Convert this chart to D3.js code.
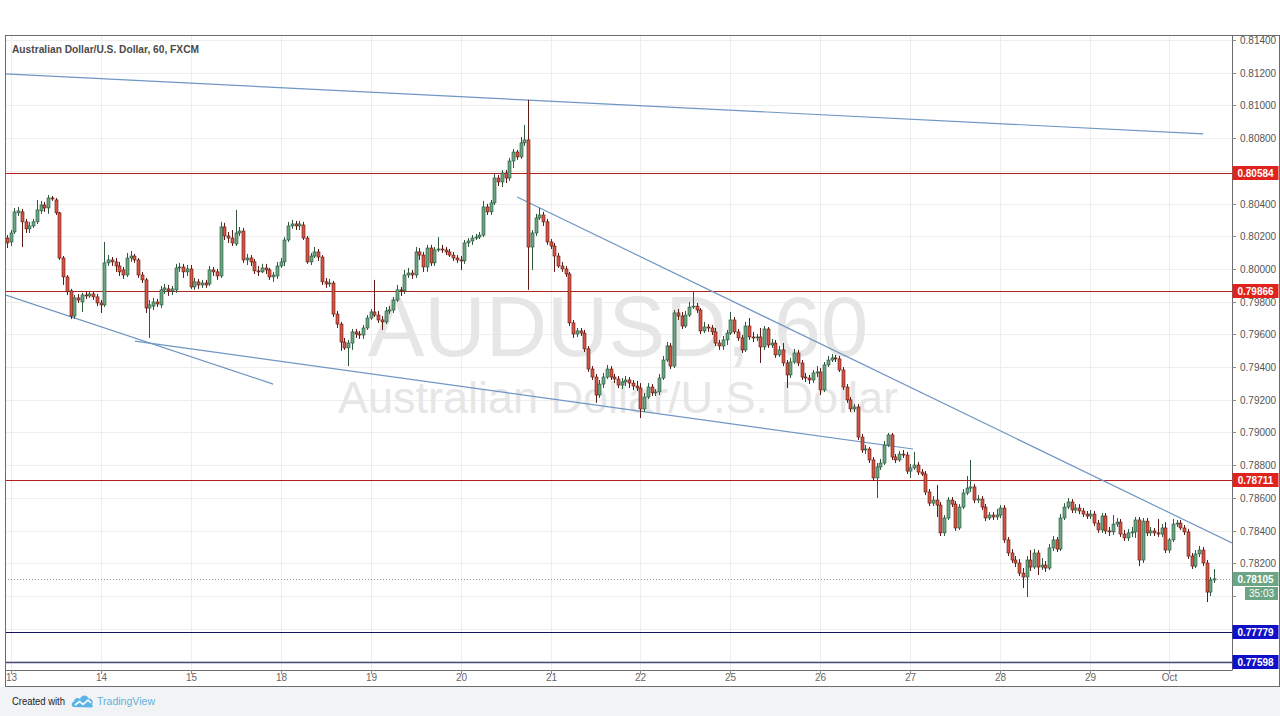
<!DOCTYPE html>
<html><head><meta charset="utf-8">
<script src="https://cdn.jsdelivr.net/npm/d3@7"></script>
<style>html,body{margin:0;padding:0;background:#fff;overflow:hidden}svg{display:block}</style>
</head><body><svg id="c" width="1280" height="716"></svg>
<script>
// ---------- DATA (AUDUSD hourly candles, [open, high, low, close]) ----------
const prelude = [[0.80189,0.80207,0.80128,0.80159]];
const sep13 = [[0.80165,0.80238,0.80140,0.80220],[0.80226,0.80373,0.80214,0.80349],[0.80343,0.80379,0.80324,0.80355],[0.80349,0.80367,0.80134,0.80288],[0.80288,0.80306,0.80220,0.80245],[0.80245,0.80288,0.80220,0.80263],[0.80263,0.80306,0.80251,0.80288],[0.80288,0.80422,0.80275,0.80361],[0.80355,0.80416,0.80337,0.80391],[0.80391,0.80410,0.80349,0.80373],[0.80373,0.80452,0.80337,0.80434],[0.80434,0.80446,0.80416,0.80428],[0.80422,0.80434,0.80330,0.80343],[0.80343,0.80349,0.80055,0.80067],[0.80067,0.80079,0.79902,0.79951],[0.79951,0.79963,0.79841,0.79860],[0.79866,0.79878,0.79694,0.79712],[0.79712,0.79841,0.79694,0.79823],[0.79823,0.79847,0.79792,0.79810],[0.79798,0.79854,0.79737,0.79841],[0.79841,0.79860,0.79817,0.79835],[0.79835,0.79866,0.79823,0.79847],[0.79847,0.79860,0.79810,0.79829],[0.79829,0.79847,0.79773,0.79792]];
const sep14 = [[0.79792,0.79810,0.79731,0.79780],[0.79780,0.80165,0.79767,0.80037],[0.80037,0.80085,0.80018,0.80055],[0.80055,0.80073,0.80018,0.80043],[0.80043,0.80067,0.79982,0.80018],[0.80018,0.80043,0.79957,0.79982],[0.79994,0.80012,0.79939,0.79963],[0.79963,0.80098,0.79951,0.80067],[0.80067,0.80110,0.80043,0.80079],[0.80079,0.80092,0.80037,0.80055],[0.80055,0.80067,0.79945,0.79963],[0.79963,0.79982,0.79914,0.79933],[0.79933,0.79945,0.79731,0.79761],[0.79761,0.79810,0.79578,0.79780],[0.79773,0.79823,0.79749,0.79798],[0.79798,0.79817,0.79767,0.79786],[0.79780,0.79896,0.79761,0.79872],[0.79872,0.79908,0.79847,0.79884],[0.79878,0.79902,0.79835,0.79866],[0.79866,0.79896,0.79841,0.79878],[0.79872,0.80031,0.79854,0.80006],[0.80006,0.80037,0.79982,0.80012],[0.80012,0.80031,0.79945,0.79982],[0.79982,0.80024,0.79957,0.80000]];
const sep15 = [[0.80000,0.80024,0.79878,0.79890],[0.79890,0.79945,0.79872,0.79921],[0.79921,0.79939,0.79878,0.79902],[0.79902,0.79933,0.79884,0.79914],[0.79914,0.79933,0.79884,0.79902],[0.79908,0.80018,0.79896,0.79994],[0.79994,0.80012,0.79957,0.79982],[0.79982,0.80000,0.79933,0.79957],[0.79957,0.80288,0.79945,0.80257],[0.80257,0.80282,0.80177,0.80202],[0.80202,0.80226,0.80159,0.80189],[0.80189,0.80238,0.80140,0.80159],[0.80153,0.80361,0.80140,0.80220],[0.80220,0.80257,0.80202,0.80232],[0.80232,0.80251,0.80037,0.80055],[0.80055,0.80092,0.80024,0.80067],[0.80067,0.80085,0.80018,0.80043],[0.80043,0.80061,0.79969,0.79988],[0.79988,0.80018,0.79957,0.79982],[0.79982,0.80031,0.79975,0.80006],[0.80006,0.80031,0.79969,0.79994],[0.79994,0.80006,0.79933,0.79951],[0.79951,0.79982,0.79921,0.79963],[0.79957,0.80043,0.79939,0.80018]];
const sep18 = [[0.80018,0.80067,0.80006,0.80043],[0.80043,0.80195,0.80018,0.80177],[0.80177,0.80288,0.80165,0.80263],[0.80263,0.80300,0.80245,0.80275],[0.80275,0.80294,0.80238,0.80263],[0.80263,0.80294,0.80238,0.80275],[0.80269,0.80288,0.80177,0.80189],[0.80189,0.80202,0.80031,0.80043],[0.80043,0.80098,0.80024,0.80079],[0.80079,0.80134,0.80067,0.80104],[0.80104,0.80122,0.80049,0.80073],[0.80073,0.80085,0.79902,0.79921],[0.79921,0.79945,0.79884,0.79908],[0.79908,0.79939,0.79890,0.79914],[0.79914,0.79927,0.79706,0.79724],[0.79724,0.79743,0.79639,0.79663],[0.79663,0.79676,0.79499,0.79553],[0.79553,0.79578,0.79505,0.79517],[0.79517,0.79566,0.79406,0.79547],[0.79547,0.79633,0.79505,0.79615],[0.79615,0.79633,0.79578,0.79602],[0.79602,0.79621,0.79572,0.79596],[0.79596,0.79657,0.79572,0.79639],[0.79639,0.79718,0.79627,0.79700]];
const sep19 = [[0.79700,0.79755,0.79688,0.79737],[0.79737,0.79933,0.79706,0.79718],[0.79718,0.79743,0.79670,0.79688],[0.79688,0.79712,0.79627,0.79676],[0.79676,0.79767,0.79663,0.79743],[0.79743,0.79773,0.79724,0.79749],[0.79749,0.79829,0.79731,0.79810],[0.79810,0.79902,0.79798,0.79872],[0.79872,0.79890,0.79835,0.79866],[0.79866,0.79994,0.79847,0.79963],[0.79963,0.80006,0.79945,0.79975],[0.79975,0.79994,0.79939,0.79963],[0.79963,0.80134,0.79945,0.80104],[0.80104,0.80128,0.80055,0.80085],[0.80085,0.80104,0.79982,0.80012],[0.80012,0.80147,0.79982,0.80128],[0.80128,0.80147,0.80018,0.80037],[0.80037,0.80134,0.80018,0.80116],[0.80116,0.80195,0.80104,0.80122],[0.80122,0.80147,0.80098,0.80116],[0.80116,0.80134,0.80085,0.80104],[0.80104,0.80122,0.80073,0.80085],[0.80085,0.80104,0.80049,0.80067],[0.80067,0.80085,0.80037,0.80055]];
const sep20 = [[0.80055,0.80079,0.79994,0.80049],[0.80049,0.80177,0.80031,0.80159],[0.80159,0.80189,0.80134,0.80171],[0.80171,0.80207,0.80147,0.80189],[0.80189,0.80214,0.80177,0.80195],[0.80195,0.80226,0.80183,0.80207],[0.80207,0.80416,0.80195,0.80379],[0.80379,0.80398,0.80330,0.80349],[0.80349,0.80422,0.80330,0.80404],[0.80404,0.80581,0.80391,0.80556],[0.80556,0.80575,0.80507,0.80532],[0.80532,0.80605,0.80501,0.80587],[0.80587,0.80605,0.80526,0.80556],[0.80556,0.80679,0.80538,0.80660],[0.80660,0.80734,0.80618,0.80715],[0.80715,0.80728,0.80667,0.80685],[0.80685,0.80807,0.80673,0.80771],[0.80771,0.80881,0.80752,0.80789],[0.80789,0.81034,0.79872,0.80134],[0.80134,0.80238,0.79994,0.80220],[0.80220,0.80337,0.80202,0.80312],[0.80312,0.80373,0.80300,0.80330],[0.80330,0.80349,0.80263,0.80288],[0.80288,0.80306,0.80147,0.80165]];
const sep21 = [[0.80165,0.80183,0.80122,0.80140],[0.80140,0.80159,0.79982,0.80079],[0.80079,0.80098,0.80006,0.80018],[0.80018,0.80043,0.79982,0.80000],[0.80000,0.80018,0.79951,0.79969],[0.79969,0.79982,0.79651,0.79670],[0.79670,0.79688,0.79578,0.79602],[0.79602,0.79639,0.79584,0.79621],[0.79621,0.79639,0.79590,0.79608],[0.79608,0.79627,0.79492,0.79511],[0.79511,0.79529,0.79370,0.79388],[0.79388,0.79406,0.79321,0.79339],[0.79339,0.79358,0.79181,0.79229],[0.79229,0.79321,0.79211,0.79296],[0.79296,0.79364,0.79272,0.79339],[0.79339,0.79413,0.79327,0.79388],[0.79388,0.79406,0.79321,0.79339],[0.79339,0.79358,0.79302,0.79327],[0.79327,0.79345,0.79272,0.79290],[0.79290,0.79333,0.79266,0.79309],[0.79309,0.79345,0.79284,0.79321],[0.79321,0.79339,0.79272,0.79302],[0.79302,0.79321,0.79260,0.79284],[0.79284,0.79315,0.79254,0.79272]];
const sep22 = [[0.79272,0.79302,0.79088,0.79144],[0.79144,0.79242,0.79125,0.79217],[0.79217,0.79302,0.79205,0.79278],[0.79278,0.79296,0.79223,0.79242],[0.79242,0.79266,0.79223,0.79248],[0.79248,0.79358,0.79229,0.79333],[0.79333,0.79468,0.79321,0.79443],[0.79443,0.79553,0.79431,0.79529],[0.79529,0.79547,0.79388,0.79406],[0.79406,0.79749,0.79394,0.79731],[0.79731,0.79755,0.79688,0.79712],[0.79712,0.79737,0.79633,0.79651],[0.79651,0.79743,0.79639,0.79718],[0.79718,0.79798,0.79706,0.79767],[0.79767,0.79860,0.79755,0.79773],[0.79773,0.79792,0.79731,0.79749],[0.79749,0.79761,0.79602,0.79621],[0.79621,0.79676,0.79608,0.79645],[0.79645,0.79663,0.79615,0.79639],[0.79639,0.79657,0.79596,0.79615],[0.79615,0.79639,0.79529,0.79547],[0.79547,0.79566,0.79505,0.79529],[0.79529,0.79590,0.79505,0.79566],[0.79566,0.79627,0.79535,0.79608]];
const sep25 = [[0.79608,0.79737,0.79596,0.79688],[0.79688,0.79706,0.79602,0.79615],[0.79615,0.79633,0.79559,0.79578],[0.79578,0.79596,0.79486,0.79505],[0.79505,0.79676,0.79492,0.79651],[0.79651,0.79700,0.79566,0.79584],[0.79584,0.79615,0.79553,0.79578],[0.79578,0.79602,0.79559,0.79584],[0.79584,0.79639,0.79425,0.79523],[0.79523,0.79651,0.79505,0.79633],[0.79633,0.79645,0.79517,0.79535],[0.79535,0.79572,0.79517,0.79547],[0.79547,0.79566,0.79456,0.79474],[0.79474,0.79529,0.79462,0.79505],[0.79505,0.79547,0.79406,0.79425],[0.79425,0.79443,0.79272,0.79352],[0.79352,0.79456,0.79333,0.79431],[0.79431,0.79511,0.79419,0.79486],[0.79486,0.79505,0.79406,0.79425],[0.79425,0.79443,0.79321,0.79339],[0.79339,0.79364,0.79309,0.79333],[0.79333,0.79352,0.79296,0.79321],[0.79321,0.79382,0.79302,0.79364],[0.79364,0.79406,0.79339,0.79370]];
const sep26 = [[0.79370,0.79394,0.79229,0.79260],[0.79260,0.79431,0.79248,0.79413],[0.79413,0.79468,0.79400,0.79443],[0.79443,0.79480,0.79431,0.79456],[0.79456,0.79474,0.79431,0.79450],[0.79450,0.79468,0.79370,0.79382],[0.79382,0.79400,0.79260,0.79278],[0.79278,0.79296,0.79181,0.79199],[0.79199,0.79217,0.79125,0.79144],[0.79144,0.79174,0.79125,0.79156],[0.79156,0.79174,0.78954,0.78972],[0.78972,0.78991,0.78875,0.78893],[0.78893,0.78923,0.78868,0.78899],[0.78899,0.78911,0.78813,0.78832],[0.78832,0.78850,0.78703,0.78722],[0.78722,0.78813,0.78599,0.78789],[0.78789,0.78838,0.78771,0.78813],[0.78813,0.78948,0.78801,0.78923],[0.78923,0.78997,0.78911,0.78985],[0.78985,0.78997,0.78832,0.78850],[0.78850,0.78868,0.78813,0.78832],[0.78832,0.78887,0.78820,0.78868],[0.78868,0.78893,0.78844,0.78862],[0.78862,0.78881,0.78746,0.78764]];
const sep27 = [[0.78764,0.78807,0.78722,0.78783],[0.78783,0.78881,0.78771,0.78801],[0.78801,0.78820,0.78740,0.78758],[0.78758,0.78777,0.78734,0.78746],[0.78746,0.78764,0.78617,0.78636],[0.78636,0.78654,0.78550,0.78568],[0.78568,0.78611,0.78550,0.78587],[0.78587,0.78679,0.78483,0.78556],[0.78556,0.78575,0.78367,0.78386],[0.78386,0.78495,0.78367,0.78477],[0.78477,0.78605,0.78465,0.78587],[0.78587,0.78605,0.78544,0.78562],[0.78562,0.78581,0.78398,0.78416],[0.78416,0.78562,0.78404,0.78544],[0.78544,0.78654,0.78532,0.78630],[0.78630,0.78734,0.78617,0.78660],[0.78660,0.78832,0.78636,0.78667],[0.78667,0.78685,0.78568,0.78587],[0.78587,0.78617,0.78568,0.78593],[0.78593,0.78611,0.78526,0.78544],[0.78544,0.78562,0.78458,0.78477],[0.78477,0.78513,0.78465,0.78495],[0.78495,0.78513,0.78465,0.78483],[0.78483,0.78532,0.78465,0.78495]];
const sep28 = [[0.78495,0.78556,0.78477,0.78538],[0.78538,0.78556,0.78324,0.78343],[0.78343,0.78361,0.78244,0.78263],[0.78263,0.78287,0.78202,0.78220],[0.78220,0.78244,0.78177,0.78202],[0.78202,0.78226,0.78122,0.78140],[0.78140,0.78171,0.78049,0.78116],[0.78116,0.78244,0.77994,0.78220],[0.78220,0.78281,0.78153,0.78177],[0.78177,0.78287,0.78165,0.78263],[0.78263,0.78281,0.78128,0.78177],[0.78177,0.78232,0.78159,0.78189],[0.78189,0.78214,0.78147,0.78171],[0.78171,0.78318,0.78159,0.78294],[0.78294,0.78367,0.78275,0.78343],[0.78343,0.78361,0.78269,0.78287],[0.78287,0.78501,0.78275,0.78477],[0.78477,0.78568,0.78465,0.78544],[0.78544,0.78599,0.78532,0.78575],[0.78575,0.78593,0.78507,0.78526],[0.78526,0.78562,0.78507,0.78538],[0.78538,0.78562,0.78501,0.78520],[0.78520,0.78538,0.78483,0.78501],[0.78501,0.78520,0.78471,0.78489]];
const sep29 = [[0.78489,0.78526,0.78471,0.78501],[0.78501,0.78520,0.78428,0.78446],[0.78446,0.78465,0.78386,0.78404],[0.78404,0.78507,0.78386,0.78489],[0.78489,0.78507,0.78379,0.78398],[0.78398,0.78422,0.78367,0.78392],[0.78392,0.78495,0.78373,0.78440],[0.78440,0.78477,0.78422,0.78452],[0.78452,0.78471,0.78361,0.78379],[0.78379,0.78404,0.78336,0.78355],[0.78355,0.78410,0.78336,0.78386],[0.78386,0.78422,0.78361,0.78392],[0.78392,0.78483,0.78355,0.78465],[0.78465,0.78483,0.78183,0.78220],[0.78220,0.78477,0.78202,0.78458],[0.78458,0.78477,0.78367,0.78386],[0.78386,0.78422,0.78367,0.78398],[0.78398,0.78416,0.78367,0.78386],[0.78386,0.78471,0.78361,0.78379],[0.78379,0.78440,0.78361,0.78416],[0.78416,0.78452,0.78263,0.78281]];
const oct1 = [[0.78281,0.78355,0.78263,0.78343],[0.78343,0.78471,0.78330,0.78440],[0.78440,0.78465,0.78422,0.78446],[0.78446,0.78465,0.78404,0.78416],[0.78416,0.78434,0.78373,0.78392],[0.78392,0.78410,0.78226,0.78244],[0.78244,0.78263,0.78165,0.78183],[0.78183,0.78281,0.78171,0.78257],[0.78257,0.78306,0.78238,0.78281],[0.78281,0.78300,0.78183,0.78202],[0.78202,0.78220,0.77963,0.78024],[0.78024,0.78116,0.78000,0.78098],[0.78098,0.78165,0.78079,0.78105]];

const dayLabels = ["13","14","15","18","19","20","21","22","25","26","27","28","29","Oct"];
const dayCandles = [sep13,sep14,sep15,sep18,sep19,sep20,sep21,sep22,sep25,sep26,sep27,sep28,sep29,oct1];
const priceTicks = [0.776,0.778,0.780,0.782,0.784,0.786,0.788,0.790,0.792,0.794,0.796,0.798,0.800,0.802,0.804,0.806,0.808,0.810,0.812,0.814];
const redLevels = [0.80584, 0.79866, 0.78711];
const blueLevels = [0.77779, 0.77598];
const lastPrice = 0.78105;
const countdown = "35:03";
// trendlines: [[candleIndex, price], [candleIndex, price]]
const trendlines = [
  [[-0.5, 0.81193], [319.1, 0.80826]],
  [[-0.5, 0.79841], [71.0, 0.79296]],
  [[34.15, 0.79559], [241.7, 0.78899]],
  [[136.1, 0.80440], [326.8, 0.78324]]
];
const title = "Australian Dollar/U.S. Dollar, 60, FXCM";
const watermark1 = "AUDUSD, 60";
const watermark2 = "Australian Dollar/U.S. Dollar";

// ---------- DRAW ----------
const W = 1280, H = 716;
const P = {left: 5, right: 1232, top: 35, bottom: 670, outerRight: 1279, outerBottom: 686};
const FONT = "'Liberation Sans', Arial, sans-serif";
const svg = d3.select("#c");
svg.append("rect").attr("width", W).attr("height", H).attr("fill", "#ffffff");
svg.append("rect").attr("y", P.outerBottom + 1).attr("width", W).attr("height", H - P.outerBottom - 1).attr("fill", "#f2f3f5");

const candles = [...prelude];
const dayStarts = [];
dayCandles.forEach(d => { dayStarts.push(candles.length); candles.push(...d); });

const x = d3.scaleLinear().domain([0, candles.length - 1]).range([7, 1214]);
const y = d3.scaleLinear().domain([0.780, 0.814]).range([596, 40]);

svg.append("defs").append("clipPath").attr("id", "plotclip")
  .append("rect").attr("x", P.left).attr("y", P.top).attr("width", P.right - P.left).attr("height", P.bottom - P.top);

const plot = svg.append("g").attr("clip-path", "url(#plotclip)");

// grid
plot.selectAll("line.hg").data(priceTicks).join("line")
  .attr("x1", P.left).attr("x2", P.right)
  .attr("y1", d => Math.round(y(d)) + 0.5).attr("y2", d => Math.round(y(d)) + 0.5)
  .attr("stroke", "#eeeeee").attr("stroke-width", 1);
plot.selectAll("line.vg").data(dayStarts).join("line")
  .attr("y1", P.top).attr("y2", P.bottom)
  .attr("x1", d => Math.round(x(d)) + 0.5).attr("x2", d => Math.round(x(d)) + 0.5)
  .attr("stroke", "#eeeeee").attr("stroke-width", 1);

// watermark
plot.append("text").attr("x", 618).attr("y", 356).attr("text-anchor", "middle")
  .attr("font-family", FONT).attr("font-size", 85).attr("fill", "#e6e6e6").text(watermark1);
plot.append("text").attr("x", 618).attr("y", 413).attr("text-anchor", "middle")
  .attr("font-family", FONT).attr("font-size", 45).attr("fill", "#e6e6e6").text(watermark2);

// horizontal levels
plot.selectAll("line.red").data(redLevels).join("line")
  .attr("x1", P.left).attr("x2", P.right)
  .attr("y1", d => Math.round(y(d)) + 0.5).attr("y2", d => Math.round(y(d)) + 0.5)
  .attr("stroke", "#b3231d").attr("stroke-width", 1);
plot.selectAll("line.blue").data(blueLevels).join("line")
  .attr("x1", P.left).attr("x2", P.right)
  .attr("y1", d => Math.round(y(d)) + 0.5).attr("y2", d => Math.round(y(d)) + 0.5)
  .attr("stroke", (d, i) => i === 0 ? "#14145e" : "#4a4c78").attr("stroke-width", (d, i) => i === 0 ? 1 : 1.5);

// last price dotted line
plot.append("line").attr("x1", P.left).attr("x2", P.right)
  .attr("y1", Math.round(y(lastPrice)) + 0.5).attr("y2", Math.round(y(lastPrice)) + 0.5)
  .attr("stroke", "#9a9a9a").attr("stroke-dasharray", "1,2").attr("stroke-width", 1);

// trendlines
plot.selectAll("line.tl").data(trendlines).join("line")
  .attr("x1", d => x(d[0][0])).attr("y1", d => y(d[0][1]))
  .attr("x2", d => x(d[1][0])).attr("y2", d => y(d[1][1]))
  .attr("stroke", "#6f96c4").attr("stroke-width", 1.2);

// candles
const cg = plot.append("g");
candles.forEach((c, i) => {
  const [o, h, l, cl] = c;
  const up = cl >= o;
  const cx = Math.round(x(i)) + 0.5;
  cg.append("line").attr("x1", cx).attr("x2", cx).attr("y1", y(h)).attr("y2", y(l))
    .attr("stroke", up ? "#2f5a3e" : "#5b1a13").attr("stroke-width", 1);
  const top = Math.min(y(o), y(cl));
  const hh = Math.max(1, Math.abs(y(o) - y(cl)));
  cg.append("rect").attr("x", cx - 1.5).attr("y", top).attr("width", 3).attr("height", hh)
    .attr("fill", up ? "#6ba583" : "#d75442").attr("stroke", up ? "#225437" : "#5b1a13").attr("stroke-width", 0.6);
});

// frame
svg.append("rect").attr("x", P.left + 0.5).attr("y", P.top + 0.5)
  .attr("width", P.outerRight - P.left).attr("height", P.outerBottom - P.top)
  .attr("fill", "none").attr("stroke", "#6b6b6b").attr("stroke-width", 1);
svg.append("line").attr("x1", P.right + 0.5).attr("x2", P.right + 0.5).attr("y1", P.top).attr("y2", P.bottom + 0.5)
  .attr("stroke", "#6b6b6b");
svg.append("line").attr("x1", P.left).attr("x2", P.right).attr("y1", P.bottom + 0.5).attr("y2", P.bottom + 0.5)
  .attr("stroke", "#6b6b6b");

// price axis
const boxCenters = [...redLevels, ...blueLevels].map(v => Math.round(y(v)))
  .concat([Math.round(y(lastPrice)), Math.round(y(lastPrice)) + 14]);
const pa = svg.append("g");
priceTicks.forEach(t => {
  const yy = Math.round(y(t)) + 0.5;
  if (yy < P.top || yy > P.bottom) return;
  pa.append("line").attr("x1", P.right).attr("x2", P.right + 4).attr("y1", yy).attr("y2", yy).attr("stroke", "#888");
  const hidden = boxCenters.some(c => Math.abs(c - yy) < 10.5);
  if (hidden) return;
  pa.append("text").attr("x", P.right + 8).attr("y", yy).attr("dy", "0.35em")
    .attr("font-family", FONT).attr("font-size", 10).attr("fill", "#555").text(t.toFixed(5));
});
function levelBox(v, fill, label) {
  const yy = Math.round(y(v));
  pa.append("rect").attr("x", P.right + 0.5).attr("y", yy - 7).attr("width", 46).attr("height", 14).attr("fill", fill);
  pa.append("text").attr("x", P.right + 23.5).attr("y", yy).attr("dy", "0.36em").attr("text-anchor", "middle")
    .attr("font-family", FONT).attr("font-size", 10).attr("font-weight", "bold").attr("fill", "#fff").text(label);
}
redLevels.forEach(v => levelBox(v, "#e0231c", v.toFixed(5)));
blueLevels.forEach(v => levelBox(v, "#1010c8", v.toFixed(5)));
levelBox(lastPrice, "#6ba583", lastPrice.toFixed(5));
{
  const yy = Math.round(y(lastPrice));
  pa.append("rect").attr("x", P.right + 13).attr("y", yy + 8).attr("width", 33).attr("height", 13).attr("fill", "#6ba583");
  pa.append("text").attr("x", P.right + 29.5).attr("y", yy + 14.5).attr("dy", "0.36em").attr("text-anchor", "middle")
    .attr("font-family", FONT).attr("font-size", 10).attr("fill", "#fff").text(countdown);
}

// time axis
const ta = svg.append("g");
dayStarts.forEach((d, i) => {
  const xx = Math.round(x(d)) + 0.5;
  ta.append("line").attr("x1", xx).attr("x2", xx).attr("y1", P.bottom).attr("y2", P.bottom + 4).attr("stroke", "#888");
  ta.append("text").attr("x", xx).attr("y", 681).attr("text-anchor", "middle")
    .attr("font-family", FONT).attr("font-size", 10).attr("fill", "#666").text(dayLabels[i]);
});

// title
svg.append("text").attr("x", 12).attr("y", 53).attr("font-family", FONT).attr("font-size", 10.5)
  .attr("font-weight", "bold").attr("fill", "#4a4a4a")
  .attr("textLength", 187).attr("lengthAdjust", "spacingAndGlyphs").text(title);

// footer
svg.append("text").attr("x", 12).attr("y", 705).attr("font-family", FONT).attr("font-size", 11)
  .attr("fill", "#222").attr("textLength", 53).attr("lengthAdjust", "spacingAndGlyphs").text("Created with");
const logo = svg.append("g").attr("transform", "translate(71,692)");
logo.append("path").attr("d", "M3,15 C0,15 0,10 3,9.5 C3,6 7,5 9,7 C10,3 16,2 17.5,6.5 C21,6 23,10 21,12.5 C22.5,14 21.5,15.5 20,15.5 Z")
  .attr("fill", "#5bb4e5");
logo.append("polyline").attr("points", "4,13 8.5,9.5 12,12.5 17,8 20,11").attr("fill", "none")
  .attr("stroke", "#ffffff").attr("stroke-width", 1.6);
svg.append("text").attr("x", 97).attr("y", 705).attr("font-family", FONT).attr("font-size", 11)
  .attr("fill", "#62b0dc").attr("textLength", 58).attr("lengthAdjust", "spacingAndGlyphs").text("TradingView");
</script></body></html>
